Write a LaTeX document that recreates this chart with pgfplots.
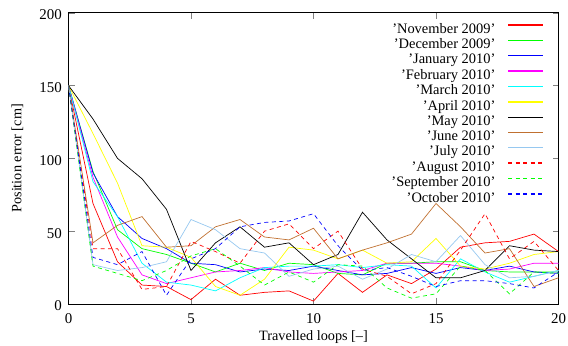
\documentclass[border=0pt]{standalone}
\usepackage{fontspec}
\setmainfont{Liberation Serif}
\usepackage{pgfplots}
\usepackage{pgfplotstable}
\pgfplotsset{compat=1.18}
\definecolor{cred}{RGB}{255,0,0}
\definecolor{cgreen}{RGB}{0,255,0}
\definecolor{cblue}{RGB}{0,0,255}
\definecolor{cmag}{RGB}{255,0,255}
\definecolor{ccyan}{RGB}{0,255,255}
\definecolor{cyel}{RGB}{255,255,0}
\definecolor{cblack}{RGB}{0,0,0}
\definecolor{cbrown}{RGB}{192,112,48}
\definecolor{clblue}{RGB}{150,200,240}
\newbox\lgdbox
\newcommand{\lgd}[2]{\setbox\lgdbox\hbox{'September}\hbox to \wd\lgdbox{\hfill #1}\ #2}
\pgfplotstableread{
x nov dec jan feb mar apr may jun jul aug sep oct
0 150 150 150 150 150 150 150 150 150 150 150 150
1 69 91 90 87 84 117 127 42 27 38 26 32
2 29 51 60 46 60 83 100 54 23 38 21 27
3 13 38 45 20 28 40 86 60 25 10 16 36
4 12 34 38 14 15 39 65 39 29 12 23 6
5 3 28 28 18 13 32 23 40 58 43 33 31
6 17 22 27 22 9 12 42 53 51 36 38 38
7 6 28 22 23 18 6 53 58 38 28 26 53
8 8 23 24 25 25 17 39 46 35 50 13 56
9 9 28 23 22 26 39 42 44 19 55 22 57
10 2 27 26 21 26 37 27 52 24 38 15 62
11 21 21 23 22 27 31 34 31 26 50 27 40
12 8 20 20 23 25 37 63 37 17 24 26 23
13 20 28 21 28 27 28 44 42 24 19 11 25
14 14 28 25 28 26 29 31 48 34 7 4 19
15 24 29 21 28 11 45 18 69 29 14 7 12
16 39 29 25 26 31 26 18 53 47 37 26 16
17 42 23 23 23 22 24 23 35 27 62 23 16
18 43 22 26 24 15 28 40 38 18 31 7 14
19 48 22 22 28 19 34 37 12 19 43 22 11
20 36 22 21 28 23 36 36 18 23 23 21 22
}\data
\tikzset{dsh/.style={dash pattern=on 4bp off 3.5bp}}
\begin{document}
\begin{tikzpicture}
\begin{axis}[
 width=490bp, height=291.3bp, scale only axis,
 xmin=0, xmax=20, ymin=0, ymax=200,
 xtick={0,5,...,20}, ytick={0,50,...,200},
 tick align=inside, tick pos=both,
 major tick length=6bp,
 axis line style={line width=0.8pt},
 /pgf/number format/assume math mode=true,
 tick label style={font=\fontsize{15}{15}\selectfont},
 label style={font=\fontsize{14.3}{14.3}\selectfont},
 xticklabel style={anchor=base, inner sep=0pt, yshift=-19bp},
 yticklabel style={anchor=east, inner sep=0pt, xshift=-6.5bp, yshift=-2bp},
 xlabel={Travelled loops [–]},
 ylabel={Position error [cm]},
 xlabel style={at={(axis description cs:0.5,-0.1236)}, anchor=base, inner sep=0pt},
 ylabel style={at={(axis description cs:-0.0918,0.5)}, anchor=south, inner sep=0pt},
 legend style={draw=none, fill=none, at={(rel axis cs:1,1)}, anchor=north east,
   xshift=-14.5bp, yshift=-8.3bp, inner sep=0pt, row sep=0pt, column sep=10bp,
   font=\fontsize{14.5}{14.5}\selectfont},
 legend cell align=right,
 legend plot pos=right,
 legend image post style={xscale=2.06, yshift=4bp, line width=1.4pt},
]
\addlegendimage{draw=cred}
\addlegendentry{\lgd{'November}{2009'}}
\addlegendimage{draw=cgreen}
\addlegendentry{\lgd{'December}{2009'}}
\addlegendimage{draw=cblue}
\addlegendentry{\lgd{'January}{2010'}}
\addlegendimage{draw=cmag}
\addlegendentry{\lgd{'February}{2010'}}
\addlegendimage{draw=ccyan}
\addlegendentry{\lgd{'March}{2010'}}
\addlegendimage{draw=cyel}
\addlegendentry{\lgd{'April}{2010'}}
\addlegendimage{draw=cblack}
\addlegendentry{\lgd{'May}{2010'}}
\addlegendimage{draw=cbrown}
\addlegendentry{\lgd{'June}{2010'}}
\addlegendimage{draw=clblue}
\addlegendentry{\lgd{'July}{2010'}}
\addlegendimage{draw=cred, dsh}
\addlegendentry{\lgd{'August}{2010'}}
\addlegendimage{draw=cgreen, dsh}
\addlegendentry{\lgd{'September}{2010'}}
\addlegendimage{draw=cblue, dsh}
\addlegendentry{\lgd{'October}{2010'}}
\addplot[forget plot, color=cred, line width=0.7pt] table[x=x,y=nov] {\data};
\addplot[forget plot, color=cgreen, line width=0.7pt] table[x=x,y=dec] {\data};
\addplot[forget plot, color=cblue, line width=0.7pt] table[x=x,y=jan] {\data};
\addplot[forget plot, color=cmag, line width=0.7pt] table[x=x,y=feb] {\data};
\addplot[forget plot, color=ccyan, line width=0.7pt] table[x=x,y=mar] {\data};
\addplot[forget plot, color=cyel, line width=0.7pt] table[x=x,y=apr] {\data};
\addplot[forget plot, color=cblack, line width=0.7pt] table[x=x,y=may] {\data};
\addplot[forget plot, color=cbrown, line width=0.7pt] table[x=x,y=jun] {\data};
\addplot[forget plot, color=clblue, line width=0.7pt] table[x=x,y=jul] {\data};
\addplot[forget plot, color=cred, line width=0.7pt, dsh] table[x=x,y=aug] {\data};
\addplot[forget plot, color=cgreen, line width=0.7pt, dsh] table[x=x,y=sep] {\data};
\addplot[forget plot, color=cblue, line width=0.7pt, dsh] table[x=x,y=oct] {\data};
\end{axis}
\pgfresetboundingbox
\path[use as bounding box] ([shift={(-68.5bp,-42bp)}]current axis.south west) rectangle ([shift={(9.5bp,12.7bp)}]current axis.north east);
\end{tikzpicture}
\end{document}
